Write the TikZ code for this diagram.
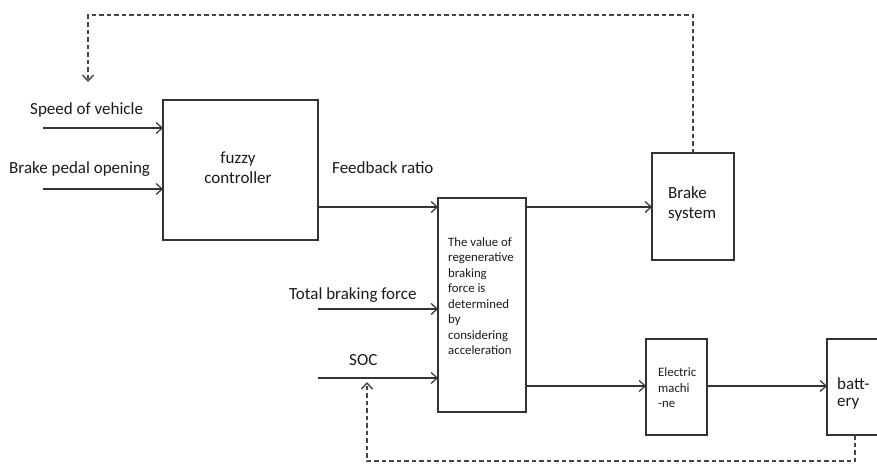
\documentclass[tikz,border=0pt]{standalone}
\usepackage{fontspec}
\setmainfont{Carlito}
\usetikzlibrary{arrows.meta}
\definecolor{linegray}{HTML}{333333}
\definecolor{dashgray}{HTML}{444444}
\definecolor{txt}{HTML}{1A1A1A}
\begin{document}
\begin{tikzpicture}[x=1pt,y=-1pt,
  box/.style={draw=linegray, line width=1.3pt, inner sep=0pt, outer sep=0pt},
  flow/.style={draw=linegray, line width=1.2pt, -{Straight Barb[length=6pt,width=11pt]}},
  fb/.style={draw=dashgray, line width=1.4pt, dash pattern=on 4.5pt off 3pt, -{Straight Barb[length=6pt,width=11pt]}},
  big/.style={font=\fontsize{17}{20}\selectfont, text=txt, inner sep=0pt},
  small/.style={font=\fontsize{12.8}{15.5}\selectfont, text=txt, inner sep=0pt}]
\useasboundingbox (0,0) rectangle (877,463);
\clip (0,0) rectangle (877,463);

% boxes
\node[box, minimum width=155pt, minimum height=140pt] (fuzzy) at (240.5,170) {};
\node[box, minimum width=88pt, minimum height=214pt] (mid) at (482,305) {};
\node[box, minimum width=82pt, minimum height=107pt] (brake) at (693,206.5) {};
\node[box, minimum width=61pt, minimum height=96pt] (em) at (676.5,387) {};
\node[box, minimum width=73pt, minimum height=96pt] (batt) at (863.5,387) {};

% box texts
\node[big, align=center, anchor=north] (fuzzyt) at (238,151.5) {fuzzy\\controller};
\node[small, align=left, anchor=north west] (midt) at (448,237) {The value of\\regenerative\\braking\\force is\\determined\\by\\considering\\acceleration};
\node[big, align=left, anchor=north west] (braket) at (668,186.5) {Brake\\system};
\node[small, align=left, anchor=north west] (emt) at (658,367.5) {Electric\\machi\\-ne};
\node[big, align=left, anchor=north west, font=\fontsize{17}{17}\selectfont] (battt) at (837,377.5) {batt-\\ery};

% input labels
\node[big, anchor=base west] (l1) at (30,114) {Speed of vehicle};
\node[big, anchor=base west] (l2) at (9,173) {Brake pedal opening};
\node[big, anchor=base west] (l3) at (332,173) {Feedback ratio};
\node[big, anchor=base west] (l4) at (289,299) {Total braking force};
\node[big, anchor=base west] (l5) at (349,365) {SOC};

% input coordinates
\coordinate (in1) at (43,128);
\coordinate (in2) at (43,189);
\coordinate (in3) at (318,309);
\coordinate (in4) at (318,378);
\coordinate (f1) at (318,207);
\coordinate (m1) at (526,207);
\coordinate (m2) at (526,386);
\coordinate (e1) at (707,386);

\draw[flow] (in1) -- (fuzzy.west |- in1);
\draw[flow] (in2) -- (fuzzy.west |- in2);
\draw[flow] (f1) -- (mid.west |- f1);
\draw[flow] (in3) -- (mid.west |- in3);
\draw[flow] (in4) -- (mid.west |- in4);
\draw[flow] (m1) -- (brake.west |- m1);
\draw[flow] (m2) -- (em.west |- m2);
\draw[flow] (e1) -- (batt.west |- e1);

% feedback dashed lines
\coordinate (t1) at (693,15);
\coordinate (t2) at (88,15);
\coordinate (t3) at (88,82);
\draw[fb] (brake.north) -- (t1) -- (t2) -- (t3);
\coordinate (b0) at (855,435);
\coordinate (b1) at (855,461);
\coordinate (b2) at (367,461);
\coordinate (b3) at (367,382);
\draw[fb] (b0) -- (b1) -- (b2) -- (b3);
\end{tikzpicture}
\end{document}
